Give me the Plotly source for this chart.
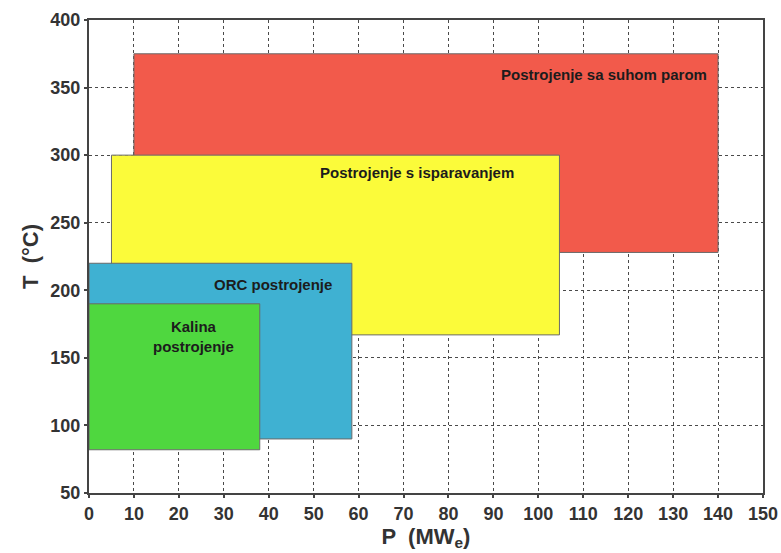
import plotly.graph_objects as go

# Plant types and their (P, T) operating ranges
names = ["Postrojenje sa suhom parom", "Postrojenje s isparavanjem", "ORC postrojenje", "Kalina postrojenje"]
p_min = [10, 5, 0, 0]
p_max = [140, 104.7, 58.5, 38]
t_min = [228, 167, 90, 82]
t_max = [375, 300, 220, 190]
colors = ["#f25a4b", "#fbfb3a", "#3fb1d2", "#4fd73f"]

x_ticks = list(range(0, 151, 10))
y_ticks = list(range(50, 401, 50))

fig = go.Figure()
for n, x0, x1, y0, y1, c in zip(names, p_min, p_max, t_min, t_max, colors):
    fig.add_trace(go.Scatter(
        x=[x0, x1, x1, x0, x0], y=[y0, y0, y1, y1, y0],
        fill="toself", fillcolor=c, mode="lines",
        line=dict(color="#6a6a6a", width=1), name=n, showlegend=False,
        hoverinfo="skip"))

lab_font = dict(family="Liberation Sans, Arial", size=15, color="#1c1c1c")
fig.add_annotation(x=138, y=360, text="<b>Postrojenje sa suhom parom</b>", showarrow=False,
                   xanchor="right", font=lab_font)
fig.add_annotation(x=73, y=287, text="<b>Postrojenje s isparavanjem</b>", showarrow=False,
                   font=lab_font)
fig.add_annotation(x=41, y=204, text="<b>ORC postrojenje</b>", showarrow=False, font=lab_font)
fig.add_annotation(x=23.2, y=166, text="<b>Kalina<br>postrojenje</b>", showarrow=False, font=lab_font)

axis_common = dict(
    showgrid=True, gridcolor="#4a4a4a", griddash="dot", gridwidth=1,
    showline=True, linecolor="#444444", linewidth=2, mirror=True,
    ticks="outside", ticklen=3, tickcolor="#444444", tickwidth=2,
    zeroline=False, automargin=False,
    tickfont=dict(family="Liberation Sans, Arial", size=18, color="#333333", weight="bold"),
)

fig.update_xaxes(range=[0, 150], tickvals=x_ticks, ticktext=[str(v) for v in x_ticks],
                 title=dict(text="<b>P  (MW<sub>e</sub>)</b>", standoff=0,
                            font=dict(family="Liberation Sans, Arial", size=22, color="#333333")),
                 **axis_common)
fig.update_yaxes(range=[50, 400], tickvals=y_ticks, ticktext=[str(v) for v in y_ticks],
                 title=dict(text="<b>T  (°C)</b>", standoff=6,
                            font=dict(family="Liberation Sans, Arial", size=22, color="#333333")),
                 **axis_common)

fig.update_layout(
    width=781, height=553,
    margin=dict(l=89, r=18, t=20, b=60),
    paper_bgcolor="white", plot_bgcolor="white",
)

fig.write_html("out.html", config={"displayModeBar": False},
               post_script="document.body.style.margin='0';document.body.style.overflow='hidden';")
